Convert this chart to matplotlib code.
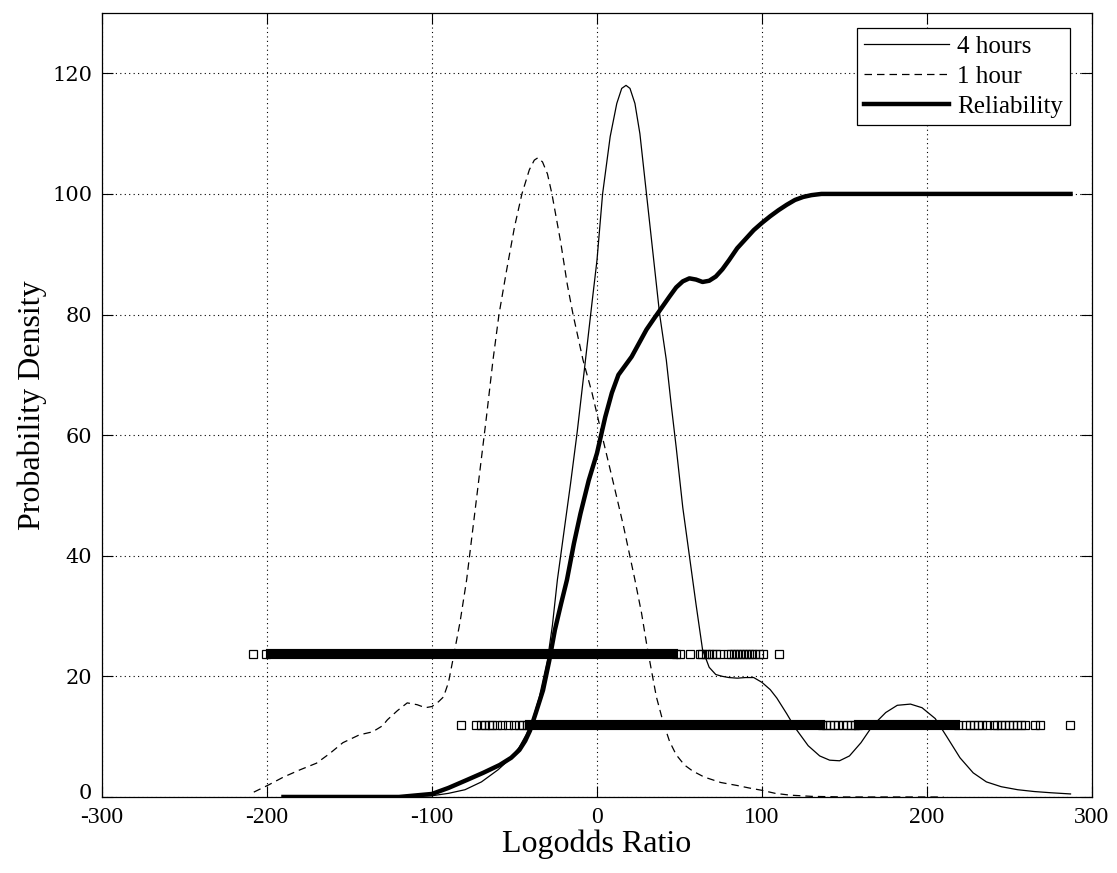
import matplotlib
matplotlib.use("Agg")
import matplotlib.pyplot as plt
from matplotlib.transforms import ScaledTranslation

plt.rcParams['font.family'] = ['Liberation Serif', 'DejaVu Serif']

# 4 hours density (thin solid)
hours4_x = [-190, -150, -120, -100, -90, -80, -70, -60, -52, -47, -43, -39, -35, -30, -27, -24,
            -20, -16, -12, -8, -3, 0, 3.4, 8, 12, 15, 17.6, 20, 23, 26, 30, 34, 38, 42, 45, 48,
            52, 56, 60, 64, 68, 72, 76, 80, 85, 90, 95, 100, 105, 109, 115, 120, 128, 135, 141,
            147, 153, 160, 167, 175, 182, 190, 197, 205, 212, 220, 228, 236, 245, 255, 265, 275, 287]
hours4_y = [0, 0, 0.05, 0.2, 0.6, 1.2, 2.5, 4.5, 6.5, 8.3, 10.3, 12.8, 16.5, 22.7, 28.5, 36,
            44, 52, 60.5, 70, 82, 89, 100, 109.5, 115, 117.5, 118, 117.5, 115, 110, 100, 90, 80, 72.5, 65, 58,
            48, 40, 32, 24.4, 21.5, 20.3, 20, 19.8, 19.7, 19.8, 19.8, 19, 17.8, 16.4, 13.8, 11.5, 8.5, 6.8, 6.1,
            6, 6.8, 9, 11.8, 14, 15.2, 15.4, 14.8, 13, 10, 6.5, 4, 2.5, 1.7, 1.2, 0.9, 0.7, 0.5]

# 1 hour density (dashed)
hour1_x = [-208, -199, -190, -180, -170, -162, -154, -144, -136, -130, -127, -121, -115, -109, -104,
           -100, -96, -93, -90, -87, -83, -79, -75, -71, -67, -63, -59.4, -55, -50, -45.5, -41, -38,
           -35.8, -33, -30, -27.3, -22, -18, -14.5, -8.5, -3, 3, 10, 16, 23, 27, 30, 33, 36, 40, 44,
           48, 53, 58, 65, 75, 85, 92, 100, 108, 117, 130, 150, 180, 210]
hour1_y = [0.8, 2, 3.3, 4.5, 5.6, 7.2, 9, 10.3, 10.8, 11.8, 12.8, 14.3, 15.6, 15.3, 14.8,
           15, 15.8, 16.6, 19, 23.2, 29, 36, 45, 54, 63, 72.5, 80, 87, 94.5, 100, 104, 105.6,
           106, 105.3, 103.3, 100, 92, 85, 80, 72.5, 67, 60, 52, 45, 36, 30.5, 25.5, 21, 16.6, 12.5, 9.2,
           7, 5.3, 4.3, 3.3, 2.4, 1.9, 1.5, 1.1, 0.6, 0.3, 0.1, 0, 0, 0]

# Reliability (thick solid)
rel_x = [-190, -150, -120, -100, -90, -79, -69, -59, -52, -47, -43.5, -40.6, -37, -32.7, -29, -25.5,
         -21.8, -18.2, -14, -10, -5, 0, 5, 9, 13, 17, 21, 25, 30, 35, 39.4, 44, 48, 52, 56, 60, 64,
         68, 72, 76, 80, 85, 90, 95, 100, 105, 110, 115, 120, 125, 130, 136, 150, 200, 287]
rel_y = [0, 0, 0, 0.5, 1.5, 2.8, 4, 5.3, 6.5, 7.8, 9.3, 11, 14, 17.7, 22.5, 27.7,
         32, 36, 42, 47, 52.5, 57, 63, 67, 70, 71.5, 73, 75, 77.5, 79.5, 81.2, 83, 84.5, 85.5, 86, 85.8, 85.4,
         85.6, 86.3, 87.5, 89, 91, 92.5, 94, 95.2, 96.3, 97.3, 98.2, 99, 99.5, 99.8, 100, 100, 100, 100]

# sample rows (open squares); dense stretches given as (start, end)
row1_y = 23.7
row1_points = [-208.5, -200.5, 47.9, 50.3, 56.4, 62.4, 63.6, 66.1, 67.9, 69.7, 72.1, 74.5, 79.4,
               81.2, 83.0, 84.8, 86.7, 88.5, 90.3, 92.1, 93.9, 95.8, 98.2, 100.6, 110.2]
row1_dense = [(-197.5, 46.0)]

row2_y = 11.9
row2_points = [-82.4, -73.3, -70.3, -67.9, -65.5, -63.6, -60.6, -57.6, -53.9, -50.3, -47.3, -44.8,
               -42.4, 136.4, 138.8, 141.2, 143.6, 146.1, 149.1, 151.5, 153.9, 156.4, 158.2, 218.8,
               223.6, 226.1, 228.5, 230.9, 233.3, 236.4, 240.6, 242.4, 244.8, 247.3, 249.7, 252.1,
               254.5, 256.9, 259.4, 265.5, 268.5, 286.7]
row2_dense = [(-40.6, 135.0), (159.0, 217.0)]

x_ticks = [-300, -200, -100, 0, 100, 200, 300]
y_ticks = [0, 20, 40, 60, 80, 100, 120]

fig = plt.figure(figsize=(11.17, 8.73), dpi=100)
ax = fig.add_axes([0.0913, 0.0871, 0.8863, 0.898])

# grid
ax.grid(True, color='black', linewidth=0.8, linestyle=(0, (1, 3)), zorder=0)
ax.set_axisbelow(True)

l4, = ax.plot(hours4_x, hours4_y, color='black', linewidth=0.9, label='4 hours', zorder=3)
l1, = ax.plot(hour1_x, hour1_y, color='black', linewidth=0.9, dashes=(6, 4), label='1 hour', zorder=3)
lr, = ax.plot(rel_x, rel_y, color='black', linewidth=3.2, label='Reliability', zorder=3)

# sample marker rows
msize = 6.4
for row_y, pts, dense in [(row1_y, row1_points, row1_dense), (row2_y, row2_points, row2_dense)]:
    ax.plot(pts, [row_y] * len(pts), linestyle='none', marker='s', markersize=msize,
            markerfacecolor='none', markeredgecolor='black', markeredgewidth=0.9, zorder=4)
    for start, end in dense:
        ax.plot([start, end], [row_y, row_y], color='black', linewidth=msize + 0.9,
                solid_capstyle='projecting', zorder=4)

ax.set_xlim(-300, 300)
ax.set_ylim(0, 130)
ax.set_xticks(x_ticks)
ax.set_yticks(y_ticks)
ax.set_xticklabels([str(v) for v in x_ticks], fontsize=17)
ax.set_yticklabels([str(v) for v in y_ticks], fontsize=15, family='DejaVu Serif')

ax.tick_params(direction='in', top=True, right=True, length=8, width=0.8)
ax.tick_params(axis='x', pad=7)
ax.tick_params(axis='y', pad=7)
for sp in ax.spines.values():
    sp.set_linewidth(0.9)

# lift the "0" label a little so it sits just above "-300"
zero_lbl = ax.get_yticklabels()[0]
zero_lbl.set_transform(zero_lbl.get_transform() + ScaledTranslation(0, 4 / 72, fig.dpi_scale_trans))

ax.set_xlabel('Logodds Ratio', fontsize=23, labelpad=1)
ax.set_ylabel('Probability Density', fontsize=23, labelpad=4)

leg = ax.legend(handles=[l4, l1, lr], loc='upper right', bbox_to_anchor=(0.978, 0.981),
                borderaxespad=0, fontsize=18, fancybox=False, framealpha=1,
                edgecolor='black', borderpad=0.3, labelspacing=0.3,
                handlelength=3.4, handletextpad=0.3)
leg.get_frame().set_linewidth(0.9)

fig.savefig('out.png', dpi=100)
